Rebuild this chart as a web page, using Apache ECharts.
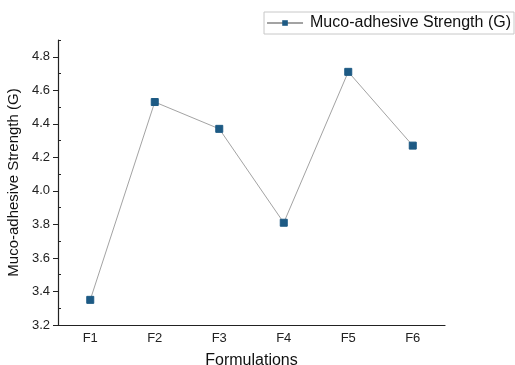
<!DOCTYPE html>
<html>
<head>
<meta charset="utf-8">
<script src="https://cdn.jsdelivr.net/npm/echarts@6/dist/echarts.min.js"></script>
<style>
  html, body { margin: 0; padding: 0; background: #fff; }
  #chart { width: 515px; height: 365px; }
</style>
</head>
<body>
<div id="chart"></div>
<script>
// Formulation categories and measured muco-adhesive strength
const formulations = ['F1', 'F2', 'F3', 'F4', 'F5', 'F6'];
const strength = [3.35, 4.53, 4.37, 3.81, 4.71, 4.27];
// Labelled (major) and unlabelled (minor) y-axis tick positions
const yMajorTicks = [3.2, 3.4, 3.6, 3.8, 4.0, 4.2, 4.4, 4.6, 4.8];
const yMinorTicks = [3.3, 3.5, 3.7, 3.9, 4.1, 4.3, 4.5, 4.7, 4.9];

const FONT = '"Liberation Sans", Arial, sans-serif';
const axisColor = '#222';
const Y_MIN = 3.2, Y_MAX = 4.9;
const gridBox = { left: 58, right: 70, top: 40, bottom: 40, containLabel: false, outerBoundsMode: 'none' };

const chart = echarts.init(document.getElementById('chart'), null, { renderer: 'canvas' });

chart.setOption({
  animation: false,
  backgroundColor: '#fff',
  textStyle: { fontFamily: FONT },
  // grid 0 holds the data and the main axes, grid 1 (same box) carries the minor ticks
  grid: [Object.assign({}, gridBox), Object.assign({}, gridBox)],
  legend: {
    right: 1,
    top: 12,
    padding: [3, 3, 3, 2],
    borderColor: '#c8c8c8',
    borderWidth: 1,
    itemWidth: 36,
    itemHeight: 7,
    itemGap: 6,
    textStyle: { fontSize: 16, color: '#111', fontFamily: FONT, padding: [0, 0, 0, 2] },
    data: ['Muco-adhesive Strength (G)']
  },
  xAxis: [
    {
      type: 'category',
      gridIndex: 0,
      data: formulations,
      boundaryGap: true,
      name: 'Formulations',
      nameLocation: 'middle',
      nameGap: 28,
      nameTextStyle: { fontSize: 16, color: '#111', fontFamily: FONT },
      axisLine: { lineStyle: { color: axisColor, width: 1.2 } },
      axisTick: { alignWithLabel: true, length: 4, lineStyle: { color: axisColor } },
      axisLabel: { fontSize: 13, color: '#222', margin: 7, fontFamily: FONT },
      splitLine: { show: false }
    },
    {
      // boundary ticks between categories
      type: 'category',
      gridIndex: 1,
      data: formulations,
      boundaryGap: true,
      position: 'bottom',
      axisLine: { show: false },
      axisTick: { inside: true, length: 3, lineStyle: { color: axisColor } },
      axisLabel: { show: false },
      splitLine: { show: false }
    }
  ],
  yAxis: [
    {
      type: 'value',
      gridIndex: 0,
      min: Y_MIN,
      max: Y_MAX,
      name: 'Muco-adhesive Strength (G)',
      nameLocation: 'middle',
      nameGap: 27,
      nameTextStyle: { fontSize: 15, color: '#111', fontFamily: FONT },
      axisLine: { show: true, lineStyle: { color: axisColor, width: 1.2 } },
      axisTick: { show: true, length: 5, customValues: yMajorTicks, lineStyle: { color: axisColor } },
      axisLabel: {
        fontSize: 13, color: '#222', margin: 8, fontFamily: FONT,
        customValues: yMajorTicks,
        formatter: v => v.toFixed(1)
      },
      splitLine: { show: false }
    },
    {
      // minor ticks
      type: 'value',
      gridIndex: 1,
      min: Y_MIN,
      max: Y_MAX,
      position: 'left',
      axisLine: { show: false },
      axisTick: { show: true, inside: true, length: 3, customValues: yMinorTicks, lineStyle: { color: axisColor } },
      axisLabel: { show: false },
      splitLine: { show: false }
    }
  ],
  series: [
    {
      name: 'Muco-adhesive Strength (G)',
      type: 'line',
      xAxisIndex: 0,
      yAxisIndex: 0,
      data: strength,
      symbol: 'rect',
      symbolSize: 7,
      itemStyle: { color: '#1d5a84', borderColor: '#1d5a84' },
      lineStyle: { color: '#a3a3a3', width: 1 }
    }
  ]
});
</script>
</body>
</html>
